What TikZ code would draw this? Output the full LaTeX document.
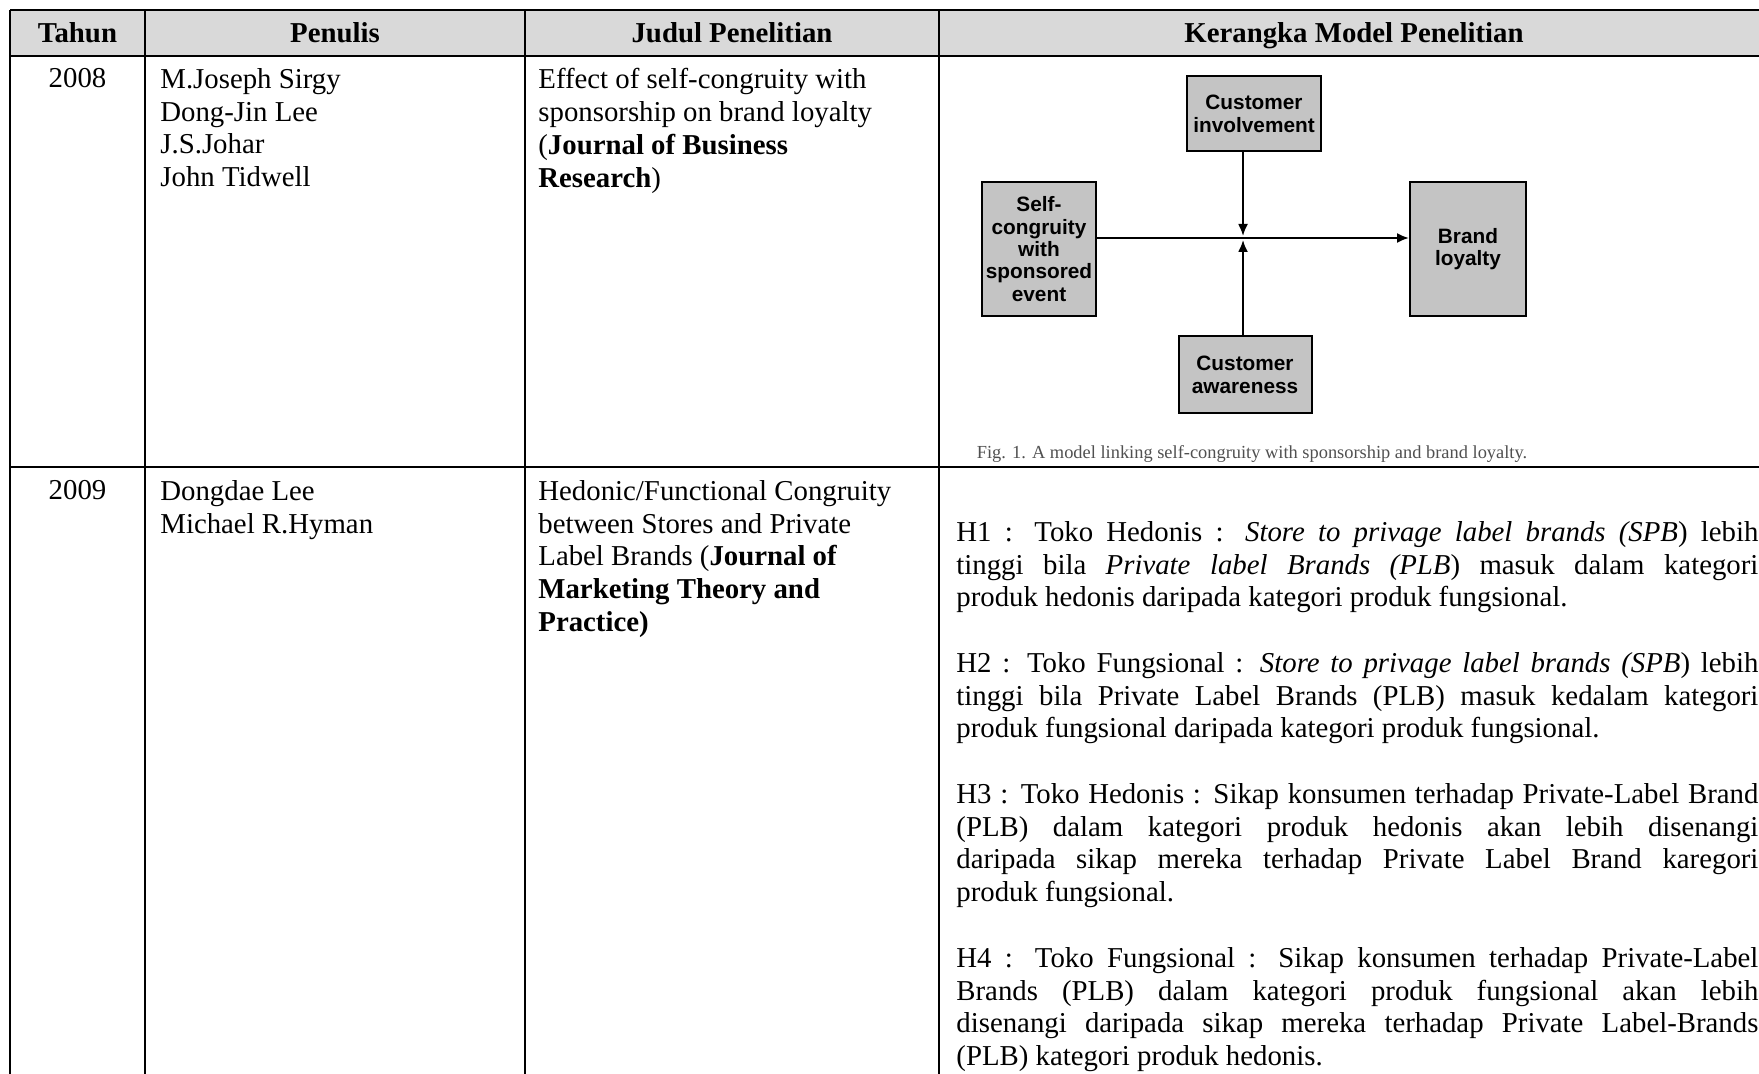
\documentclass[tikz,border=0pt]{standalone}
\usepackage{fontspec}
\setmainfont{Liberation Serif}
\newfontfamily\figfont{Liberation Sans}
\usepackage{tikz}
\usetikzlibrary{arrows.meta,positioning}

\definecolor{headgray}{HTML}{D9D9D9}
\definecolor{boxgray}{HTML}{C4C4C4}
\definecolor{capgray}{HTML}{505050}

\begin{document}
\begin{tikzpicture}[x=0.5pt,y=-0.5pt,
    rule/.style={line width=1pt},
    head/.style={anchor=base,inner sep=0pt,font=\fontsize{14.4}{16.4}\selectfont\bfseries},
    cell/.style={anchor=north west,inner sep=0pt,align=left,font=\fontsize{14.4}{16.4}\selectfont},
    hyp/.style={anchor=north west,inner sep=0pt,text width=401pt,align=justify,
      font=\fontsize{14.4}{16.4}\selectfont},
    fbox/.style={draw,line width=1pt,fill=boxgray,inner sep=0pt,align=center,
      font=\figfont\fontsize{10.4}{11.2}\selectfont\bfseries},
    link/.style={line width=1pt,-{Latex[length=6pt,width=5pt]}}]
      \useasboundingbox (0,0) rectangle (1759,1074);

      \fill[headgray] (10,10) rectangle (1759,56);
      \draw[rule] (10,10) -- (1759,10);
      \draw[rule] (10,56) -- (1759,56);
      \draw[rule] (10,467) -- (1759,467);
      \foreach \x in {10,145,525,939}
        \draw[rule] (\x,10) -- (\x,1074);

      \node[head] (tahun) at (77.5,43) {Tahun};
      \node[head] (penulis) at (335,43) {Penulis};
      \node[head] (judul) at (732,43) {Judul Penelitian};
      \node[head] (kerangka) at (1354,43) {Kerangka Model Penelitian};

      \node[cell,anchor=north] (year1) at (77.5,68) {2008};
      \node[cell] (authors1) at (160,68) {M.Joseph Sirgy\\Dong-Jin Lee\\J.S.Johar\\John Tidwell};
      \node[cell] (title1) at (538,68) {Effect of self-congruity with\\sponsorship on brand loyalty\\(\textbf{Journal of Business}\\\textbf{Research})};

      \node[fbox,minimum width=67pt,minimum height=37.5pt] (involve) at (1254,114) {Customer\\involvement};
      \node[fbox,minimum width=57pt,minimum height=67pt] (self) at (1039,249) {Self-\\congruity\\with\\sponsored\\event};
      \node[fbox,minimum width=58pt,minimum height=67pt] (loyal) at (1468,249) {Brand\\loyalty};
      \node[fbox,minimum width=66.5pt,minimum height=38.5pt] (aware) at (1245,375) {Customer\\awareness};
      \coordinate (cross) at (1243,238);
      \draw[link] (self.east |- cross) -- (loyal.west |- cross);
      \draw[link,shorten >=1pt] (cross |- involve.south) -- (cross);
      \draw[link,shorten >=1pt] (cross |- aware.north) -- (cross);
      \node[inner sep=0pt,text=capgray,font=\fontsize{9.2}{10}\selectfont] (caption) at (1252,454)
        {Fig. 1. A model linking self-congruity with sponsorship and brand loyalty.};

      \node[cell,anchor=north] (year2) at (77.5,480) {2009};
      \node[cell] (authors2) at (160,480) {Dongdae Lee\\Michael R.Hyman};
      \node[cell] (title2) at (538,480) {Hedonic/Functional Congruity\\between Stores and Private\\Label Brands (\textbf{Journal of}\\\textbf{Marketing Theory and}\\\textbf{Practice)}};

      \node[hyp] (hyp1) at (956,521) {H1 : Toko Hedonis : \textit{Store to privage label brands (SPB}) lebih\linebreak
        tinggi bila \textit{Private label Brands (PLB}) masuk dalam kategori\linebreak
        produk hedonis daripada kategori produk fungsional.};
      \node[hyp] (hyp2) at (956,652) {H2 : Toko Fungsional : \textit{Store to privage label brands (SPB}) lebih\linebreak
        tinggi bila Private Label Brands (PLB) masuk kedalam kategori\linebreak
        produk fungsional daripada kategori produk fungsional.};
      \node[hyp] (hyp3) at (956,783) {H3 : Toko Hedonis : Sikap konsumen terhadap Private-Label Brand\linebreak
        (PLB) dalam kategori produk hedonis akan lebih disenangi\linebreak
        daripada sikap mereka terhadap Private Label Brand karegori\linebreak
        produk fungsional.};
      \node[hyp] (hyp4) at (956,947) {H4 : Toko Fungsional : Sikap konsumen terhadap Private-Label\linebreak
        Brands (PLB) dalam kategori produk fungsional akan lebih\linebreak
        disenangi daripada sikap mereka terhadap Private Label-Brands\linebreak
        (PLB) kategori produk hedonis.};
    \end{tikzpicture}
\end{document}
